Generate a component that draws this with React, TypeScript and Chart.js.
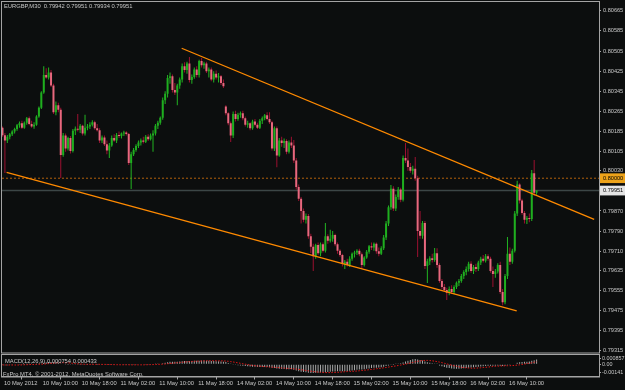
import React, { useEffect, useRef } from 'react';
import { Chart, registerables } from 'chart.js';

Chart.register(...registerables);

// ---- price data (5-digit points, EURGBP M30) ----
const opens = [
  80200,80171,80150,80165,80175,80185,80195,80210,80218,80200,
  80220,80238,80215,80205,80212,80245,80280,80340,80410,80400,
  80420,80368,80262,80290,80272,80092,80170,80118,80160,80108,
  80188,80196,80192,80208,80178,80200,80205,80212,80222,80198,
  80190,80150,80162,80135,80110,80130,80160,80150,80172,80168,
  80178,80182,80176,80060,80095,80112,80128,80142,80150,80145,
  80165,80155,80170,80178,80208,80220,80240,80310,80335,80398,
  80405,80350,80340,80368,80392,80445,80430,80455,80390,80402,
  80432,80410,80465,80448,80455,80425,80432,80392,80415,80400,
  80405,80378,80285,80258,80218,80170,80255,80235,80252,80258,
  80238,80212,80218,80198,80225,80212,80200,80228,80238,80250,
  80235,80222,80118,80198,80090,80150,80140,80148,80105,80142,
  80130,80070,79965,79918,79870,79835,79850,79770,79728,79690,
  79735,79702,79738,79712,79770,79752,79760,79775,79738,79712,
  79695,79660,79668,79655,79680,79700,79705,79712,79698,79655,
  79685,79708,79730,79725,79740,79710,79700,79722,79765,79820,
  79885,79958,79880,79925,79955,79915,80080,80070,80045,80030,
  80038,80000,79790,79772,79822,79652,79670,79682,79675,79702,
  79655,79592,79568,79556,79545,79560,79548,79568,79585,79592,
  79612,79628,79640,79660,79632,79648,79640,79665,79680,79672,
  79690,79680,79632,79620,79630,79655,79548,79508,79612,79700,
  79668,79712,79860,79975,79912,79862,79835,79842,79838,80020,
  79942,
];
const highs = [
  80205,80180,80172,80180,80190,80200,80215,80225,80228,80225,
  80243,80245,80228,80222,80250,80285,80345,80445,80437,80440,
  80430,80375,80305,80300,80280,80180,80178,80165,80168,80195,
  80205,80255,80215,80212,80252,80215,80222,80230,80228,80215,
  80198,80170,80170,80150,80140,80170,80175,80180,80185,80182,
  80188,80186,80180,80105,80120,80135,80150,80158,80165,80172,
  80175,80178,80190,80215,80228,80245,80320,80345,80410,80420,
  80412,80378,80375,80400,80455,80460,80462,80481,80412,80440,
  80445,80470,80477,80462,80462,80440,80440,80425,80428,80418,
  80410,80392,80290,80262,80225,80265,80268,80260,80265,80268,
  80245,80228,80222,80232,80235,80220,80235,80245,80255,80262,
  80262,80228,80205,80205,80160,80165,80158,80155,80150,80165,
  80152,80080,79975,79925,79880,79860,79858,79780,79740,79740,
  79745,79745,79745,79822,79778,79795,79790,79780,79745,79718,
  79700,79675,79680,79690,79705,79712,79718,79720,79705,79690,
  79715,79735,79745,79745,79745,79725,79730,79775,79830,79892,
  79973,79968,79935,79965,79962,80090,80140,80118,80060,80050,
  80084,80010,79870,79830,79830,79680,79690,79700,79723,79722,
  79662,79600,79580,79565,79570,79575,79575,79590,79600,79620,
  79635,79650,79668,79670,79655,79660,79672,79688,79695,79699,
  79698,79688,79650,79640,79662,79668,79560,79620,79767,79725,
  79720,79870,79990,79980,79918,79870,79850,79860,80033,80072,
  79951,
];
const lows = [
  80165,80021,80140,80155,80168,80178,80188,80200,80195,80196,
  80212,80210,80200,80196,80208,80240,80275,80335,80395,80392,
  80362,80255,80250,80262,80001,80085,80105,80110,80098,80102,
  80172,80185,80180,80170,80170,80190,80195,80205,80192,80185,
  80140,80140,80128,80095,80080,80125,80145,80140,80160,80158,
  80168,80170,80052,79957,80088,80105,80120,80130,80138,80140,
  80148,80150,80105,80170,80195,80212,80232,80295,80320,80375,
  80340,80330,80290,80355,80380,80420,80415,80380,80375,80395,
  80400,80400,80440,80435,80418,80400,80385,80380,80392,80380,
  80370,80358,80250,80210,80144,80160,80225,80228,80240,80230,
  80205,80200,80190,80192,80205,80195,80195,80215,80230,80230,
  80215,80110,80108,80044,80085,80125,80120,80095,80098,80120,
  80060,79955,79910,79820,79825,79820,79760,79703,79632,79680,
  79695,79690,79705,79705,79740,79745,79748,79730,79700,79688,
  79650,79640,79650,79648,79672,79685,79695,79690,79640,79650,
  79680,79700,79715,79712,79700,79690,79695,79715,79755,79810,
  79875,79870,79870,79915,79905,79908,80060,80030,80022,80015,
  79990,79687,79760,79760,79640,79584,79655,79665,79668,79645,
  79585,79560,79548,79517,79535,79540,79540,79560,79572,79585,
  79600,79615,79630,79625,79620,79628,79632,79655,79665,79665,
  79672,79625,79568,79605,79622,79540,79496,79500,79600,79655,
  79660,79705,79850,79900,79855,79820,79818,79825,79830,79930,
  79934,
];
const closes = [
  80171,80150,80165,80175,80185,80195,80210,80218,80200,80220,
  80238,80215,80205,80212,80245,80280,80340,80410,80400,80420,
  80368,80262,80290,80272,80092,80170,80118,80160,80108,80188,
  80196,80192,80208,80178,80200,80205,80212,80222,80198,80190,
  80150,80162,80135,80110,80130,80160,80150,80172,80168,80178,
  80182,80176,80060,80095,80112,80128,80142,80150,80145,80165,
  80155,80170,80178,80208,80220,80240,80310,80335,80398,80405,
  80350,80340,80368,80392,80445,80430,80455,80390,80402,80432,
  80410,80465,80448,80455,80425,80432,80392,80415,80400,80405,
  80378,80365,80258,80218,80170,80255,80235,80252,80258,80238,
  80212,80218,80198,80225,80212,80200,80228,80238,80250,80235,
  80222,80118,80198,80090,80150,80140,80148,80105,80142,80130,
  80070,79965,79918,79870,79835,79850,79770,79728,79690,79735,
  79702,79738,79712,79770,79752,79760,79775,79738,79712,79695,
  79660,79668,79655,79680,79700,79705,79712,79698,79655,79685,
  79708,79730,79725,79740,79710,79700,79722,79765,79820,79885,
  79958,79880,79925,79955,79915,80080,80070,80045,80030,80038,
  80000,79790,79772,79822,79652,79670,79682,79675,79702,79655,
  79592,79568,79556,79545,79560,79548,79568,79585,79592,79612,
  79628,79640,79660,79632,79648,79640,79665,79680,79672,79690,
  79680,79632,79620,79630,79655,79548,79508,79612,79700,79668,
  79712,79860,79975,79912,79862,79835,79842,79838,80020,79942,
  79951,
];

// ---- MACD(12,26,9), units of 1e-5 ----
const macdMain = [
  -12,-14,-14,-13,-11,-9,-6,-4,-3,-1,
  1,1,0,0,2,6,13,24,31,37,
  37,30,27,24,11,7,1,-1,-5,-4,
  -3,-2,-1,-2,-2,-1,0,1,0,-1,
  -4,-5,-8,-11,-12,-11,-11,-9,-8,-7,
  -5,-5,-10,-11,-11,-10,-8,-7,-6,-4,
  -3,-2,0,3,6,9,18,25,33,39,
  40,39,40,43,48,51,54,54,53,55,
  56,58,59,60,58,57,54,53,50,48,
  45,41,35,20,5,-2,-10,-15,-20,-25,
  -30,-34,-38,-40,-42,-45,-46,-46,-45,-45,
  -47,-58,-60,-70,-72,-75,-76,-80,-80,-81,
  -88,-100,-112,-120,-127,-130,-136,-140,-141,-139,
  -138,-135,-133,-130,-127,-123,-119,-117,-115,-114,
  -114,-112,-110,-106,-100,-95,-90,-86,-85,-80,
  -74,-67,-62,-57,-55,-53,-49,-42,-30,-18,
  -5,-1,6,14,18,30,45,58,70,80,
  85.7,78,68,60,45,34,25,17,11,3,
  -20,-32,-44,-55,-62,-68,-71,-72,-71,-68,
  -64,-60,-55,-52,-48,-45,-40,-35,-31,-27,
  -24,-24,-25,-24,-21,-24,-28,-24,-15,-12,
  -8,8,25,34,38,40,42,44,58,66,
  75.4,
];
const macdSignal = [
  -10,-11,-12,-12,-12,-12,-12,-11,-10,-8,
  -7,-5,-4,-3,-2,-1,1,4,7,11,
  15,19,22,25,26,26,25,23,20,16,
  12,8,5,2,0,-1,-2,-1,-1,-1,
  -1,-2,-2,-3,-4,-5,-6,-7,-8,-8,
  -8,-8,-8,-9,-9,-9,-9,-9,-9,-8,
  -7,-6,-5,-4,-2,0,2,5,9,13,
  17,21,25,29,33,37,40,43,46,48,
  50,51,53,55,56,57,57,57,57,56,
  55,54,52,48,43,37,30,23,16,9,
  2,-5,-12,-18,-23,-28,-32,-36,-39,-41,
  -43,-46,-49,-52,-55,-59,-62,-65,-68,-71,
  -74,-78,-83,-88,-94,-100,-106,-112,-117,-122,
  -126,-129,-132,-134,-135,-135,-134,-132,-130,-127,
  -124,-121,-118,-116,-114,-112,-109,-105,-101,-97,
  -93,-88,-83,-78,-73,-68,-63,-58,-52,-46,
  -39,-33,-27,-20,-13,-6,2,10,20,30,
  40,48,55,60,62,62,60,56,50,43,
  35,26,16,6,-4,-14,-24,-33,-41,-48,
  -54,-58,-61,-63,-63,-62,-60,-57,-53,-49,
  -45,-41,-37,-33,-30,-28,-26,-25,-24,-23,
  -21,-18,-14,-9,-3,4,11,17,23,33,
  43.3,
];

// ---- axes ----
const timeLabels = [
  '10 May 2012', '10 May 10:00', '10 May 18:00', '11 May 02:00', '11 May 10:00',
  '11 May 18:00', '14 May 02:00', '14 May 10:00', '14 May 18:00', '15 May 02:00',
  '15 May 10:00', '15 May 18:00', '16 May 02:00', '16 May 10:00',
];
const timeTickBars = [0, 16, 32, 48, 64, 80, 96, 112, 128, 144, 160, 176, 192, 208];
const priceTickLabels = [
  '0.80665', '0.80585', '0.80505', '0.80425', '0.80345', '0.80265', '0.80185',
  '0.80105', '0.80030', '0.80000', '0.79951', '0.79870', '0.79790', '0.79710',
  '0.79635', '0.79555', '0.79475', '0.79395', '0.79315',
];
const macdTickLabels = ['0.000857', '0.00', '-0.00141'];
const macdTickValues = [0.000857, 0, -0.00141];

// ---- chart objects (trend lines, horizontal lines) ----
const upperTrend = [{ bar: 73.8, price: 80516 }, { bar: 243.7, price: 79837 }];
const lowerTrend = [{ bar: 1.7, price: 80023 }, { bar: 211.8, price: 79473 }];
const levelPrice = 80000;
const bidPrice = 79951;

const X_MIN = -0.2;
const X_MAX = 245.7;
const Y_MIN = 0.793081;
const Y_MAX = 0.806996;

const FONT = "'Liberation Sans', Arial, sans-serif";
const TEXT = '#c8c8c8';
const FRAME = '#a4a4a4';
const BG = '#0c0e0e';

const P = (v: number) => v / 1e5;

const framePlugin = {
  id: 'mtFrame',
  afterDraw(chart: any) {
    const { ctx, chartArea: a } = chart;
    ctx.save();
    ctx.strokeStyle = FRAME;
    ctx.lineWidth = 1;
    ctx.strokeRect(a.left - 0.5, a.top - 0.5, a.right - a.left + 1, a.bottom - a.top + 1);
    ctx.restore();
  },
};

const isNear = (a: number, b: number) => Math.abs(a - b) < 1e-7;

function mainConfig(): any {
  const idx = closes.map((_, i) => i);
  const bull = idx.map((i) => closes[i] >= opens[i]);
  return {
    type: 'bar',
    data: {
      datasets: [
        {
          type: 'line',
          data: upperTrend.map((p) => ({ x: p.bar, y: P(p.price) })),
          borderColor: '#ff8a00',
          borderWidth: 1.3,
          pointRadius: 0,
          order: 0,
        },
        {
          type: 'line',
          data: lowerTrend.map((p) => ({ x: p.bar, y: P(p.price) })),
          borderColor: '#ff8a00',
          borderWidth: 1.3,
          pointRadius: 0,
          order: 0,
        },
        {
          type: 'bar',
          data: idx.map((i) => ({ x: i, y: [P(opens[i]), P(closes[i])] })),
          backgroundColor: bull.map((b) => (b ? '#1fae1f' : '#e8687e')),
          barThickness: 2,
          minBarLength: 1,
          grouped: false,
          inflateAmount: 0,
          order: 1,
        },
        {
          type: 'bar',
          data: idx.map((i) => ({ x: i, y: [P(lows[i]), P(highs[i])] })),
          backgroundColor: bull.map((b) => (b ? '#22b422' : '#9c1030')),
          barThickness: 1,
          grouped: false,
          inflateAmount: 0,
          order: 2,
        },
        {
          type: 'line',
          data: [{ x: X_MIN, y: P(levelPrice) }, { x: X_MAX, y: P(levelPrice) }],
          borderColor: '#b0600c',
          borderWidth: 1,
          borderDash: [2, 2],
          pointRadius: 0,
          order: 3,
        },
        {
          type: 'line',
          data: [{ x: X_MIN, y: P(bidPrice) }, { x: X_MAX, y: P(bidPrice) }],
          borderColor: '#3c4646',
          borderWidth: 1.5,
          pointRadius: 0,
          order: 3,
        },
      ],
    },
    options: {
      animation: false,
      responsive: false,
      devicePixelRatio: 1,
      events: [],
      layout: { padding: { left: 2, top: 2, right: 0, bottom: 1.5 } },
      plugins: { legend: { display: false }, tooltip: { enabled: false } },
      scales: {
        x: { type: 'linear', min: X_MIN, max: X_MAX, display: false, offset: false },
        y: {
          position: 'right',
          min: Y_MIN,
          max: Y_MAX,
          afterBuildTicks: (s: any) => {
            s.ticks = priceTickLabels.map((t) => ({ value: Number(t) }));
          },
          afterFit: (s: any) => {
            s.width = 26;
            s.paddingTop = 0;
            s.paddingBottom = 0;
          },
          grid: { drawOnChartArea: false, drawTicks: true, tickLength: 2, color: FRAME },
          border: { display: true, color: FRAME },
          ticks: {
            autoSkip: false,
            padding: 2,
            font: { family: FONT, size: 5.6 },
            color: (c: any) =>
              c.tick && (isNear(c.tick.value, P(levelPrice)) || isNear(c.tick.value, P(bidPrice)))
                ? '#000000'
                : TEXT,
            showLabelBackdrop: (c: any) =>
              !!c.tick && (isNear(c.tick.value, P(levelPrice)) || isNear(c.tick.value, P(bidPrice))),
            backdropColor: (c: any) =>
              c.tick && isNear(c.tick.value, P(levelPrice)) ? '#eda31a' : '#e4e4e4',
            backdropPadding: { top: 1.5, bottom: 1.5, left: 3, right: 3 },
            callback: (_v: any, i: number) => priceTickLabels[i],
          },
        },
      },
    },
    plugins: [framePlugin],
  };
}

function macdConfig(): any {
  const idx = macdMain.map((_, i) => i);
  return {
    type: 'bar',
    data: {
      datasets: [
        {
          type: 'line',
          data: idx.map((i) => ({ x: i, y: macdSignal[i] / 1e5 })),
          borderColor: '#e01818',
          borderWidth: 1,
          borderDash: [1.5, 1.5],
          pointRadius: 0,
          order: 0,
        },
        {
          type: 'bar',
          data: idx.map((i) => ({ x: i, y: macdMain[i] / 1e5 })),
          backgroundColor: '#a9a9a9',
          barThickness: 1,
          grouped: false,
          inflateAmount: 0,
          order: 1,
        },
      ],
    },
    options: {
      animation: false,
      responsive: false,
      devicePixelRatio: 1,
      events: [],
      layout: { padding: { left: 2, top: 1, right: 0, bottom: 0 } },
      plugins: { legend: { display: false }, tooltip: { enabled: false } },
      scales: {
        x: {
          type: 'linear',
          min: X_MIN,
          max: X_MAX,
          offset: false,
          afterBuildTicks: (s: any) => {
            s.ticks = timeTickBars.map((v) => ({ value: v }));
          },
          afterFit: (s: any) => {
            s.height = 13.5;
            s.paddingLeft = 0;
            s.paddingRight = 0;
          },
          grid: { drawOnChartArea: false, drawTicks: true, tickLength: 3, color: FRAME },
          border: { display: true, color: FRAME },
          ticks: {
            autoSkip: false,
            maxRotation: 0,
            minRotation: 0,
            align: 'start',
            labelOffset: 1.5,
            padding: 0.5,
            font: { family: FONT, size: 5.8 },
            color: TEXT,
            callback: (_v: any, i: number) => timeLabels[i],
          },
        },
        y: {
          position: 'right',
          min: -0.00198,
          max: 0.0015,
          afterBuildTicks: (s: any) => {
            s.ticks = macdTickValues.map((v) => ({ value: v }));
          },
          afterFit: (s: any) => {
            s.width = 26;
            s.paddingTop = 0;
            s.paddingBottom = 0;
          },
          grid: { drawOnChartArea: false, drawTicks: true, tickLength: 2, color: FRAME },
          border: { display: true, color: FRAME },
          ticks: {
            autoSkip: false,
            padding: 1,
            font: { family: FONT, size: 5.4 },
            color: TEXT,
            callback: (_v: any, i: number) => macdTickLabels[i],
          },
        },
      },
    },
    plugins: [framePlugin],
  };
}

const textStyle = (left: number, top: number): React.CSSProperties => ({
  position: 'absolute',
  left,
  top,
  fontFamily: FONT,
  fontSize: '5.8px',
  lineHeight: '7px',
  color: TEXT,
  whiteSpace: 'pre',
  pointerEvents: 'none',
});

export default function App() {
  const mainRef = useRef<HTMLCanvasElement>(null);
  const macdRef = useRef<HTMLCanvasElement>(null);

  useEffect(() => {
    const c1 = new Chart(mainRef.current as HTMLCanvasElement, mainConfig());
    const c2 = new Chart(macdRef.current as HTMLCanvasElement, macdConfig());
    return () => {
      c1.destroy();
      c2.destroy();
    };
  }, []);

  const last = closes.length - 1;
  const title = `EURGBP,M30  ${P(opens[last]).toFixed(5)} ${P(highs[last]).toFixed(5)} ${P(lows[last]).toFixed(5)} ${P(closes[last]).toFixed(5)}`;
  const macdTitle = `MACD(12,26,9) ${(macdMain[last] / 1e5).toFixed(6)} ${(macdSignal[last] / 1e5).toFixed(6)}`;

  return (
    <div style={{ position: 'fixed', left: 0, top: 0, width: 625, height: 390, background: BG, overflow: 'hidden' }}>
      <canvas ref={mainRef} width={625} height={354} style={{ position: 'absolute', left: 0, top: 0, width: 625, height: 354 }} />
      <canvas ref={macdRef} width={625} height={36} style={{ position: 'absolute', left: 0, top: 354, width: 625, height: 36 }} />
      <div style={textStyle(4, 2.5)}>{title}</div>
      <div style={textStyle(5, 357.5)}>{macdTitle}</div>
      <div style={textStyle(3, 370.5)}>FxPro MT4, © 2001-2012, MetaQuotes Software Corp.</div>
    </div>
  );
}
